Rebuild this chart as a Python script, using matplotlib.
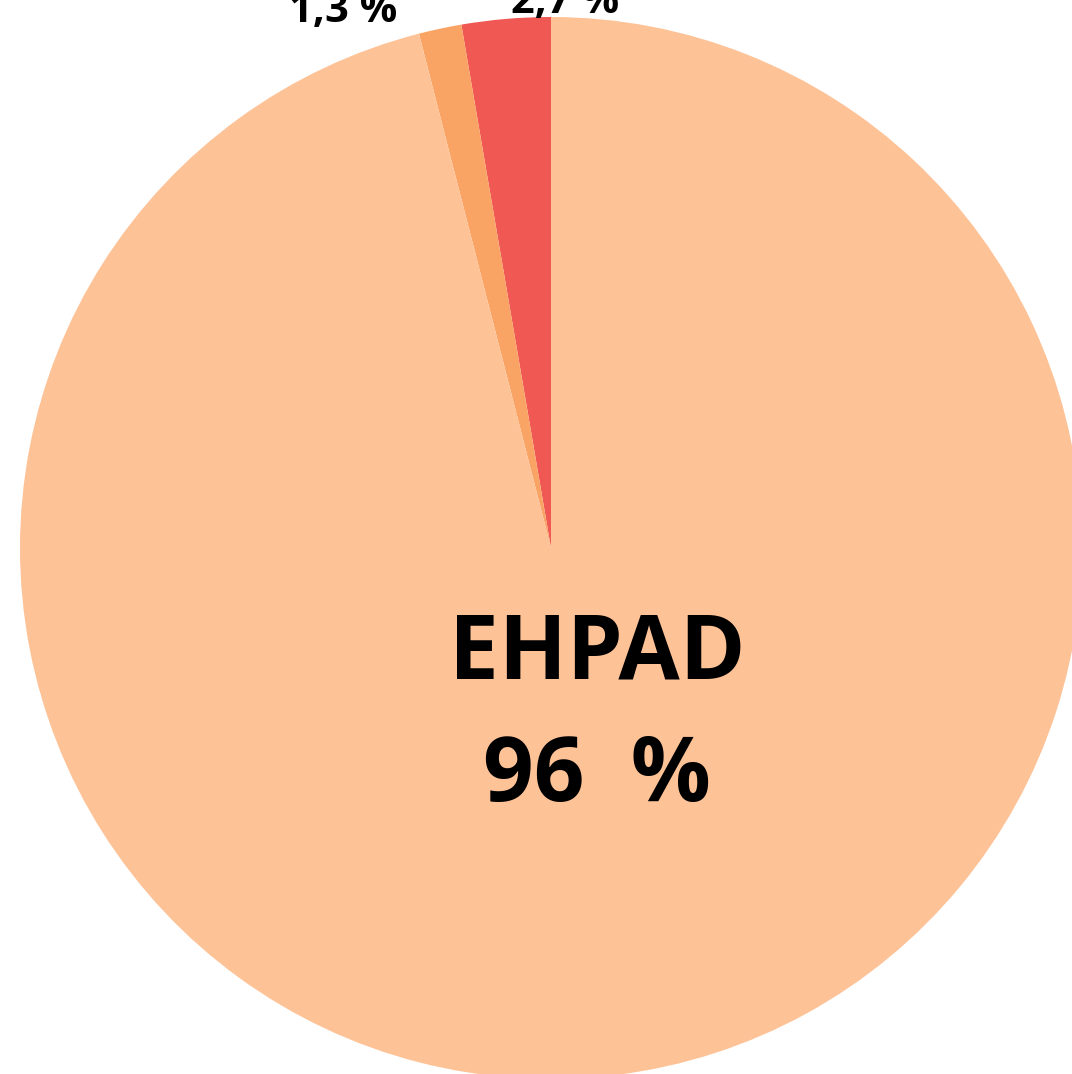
import matplotlib
matplotlib.use("Agg")
import matplotlib.pyplot as plt

categories = ["Autre", "USLD", "EHPAD"]
shares = [2.7, 1.3, 96.0]
labels = ["2,7 %", "1,3 %", "EHPAD\n96  %"]
colors = ["#EF5853", "#F9A464", "#FEC297"]

plt.rcParams['font.family'] = ['Open Sans', 'DejaVu Sans']

fig = plt.figure(figsize=(10.72, 10.74), dpi=100)
ax = fig.add_axes([0, 0, 1, 1])
ax.pie(shares, colors=colors, startangle=90, counterclock=True, radius=1.0,
       wedgeprops=dict(linewidth=0))

# pie centre sits at pixel (551, 548), radius 531 px
ax.set_xlim(-551 / 531, (1072 - 551) / 531)
ax.set_ylim(-(1074 - 548) / 531, 548 / 531)
ax.set_aspect("auto")
ax.axis("off")

ax.text(0.026, 1.028, labels[0], ha="center", va="center", fontsize=30, fontweight="bold")
ax.text(-0.392, 1.011, labels[1], ha="center", va="center", fontsize=30, fontweight="bold")
name, pct = labels[2].split("\n")
ax.text(0.087, -0.203, name, ha="center", va="center", fontsize=64, fontweight="bold")
ax.text(0.087, -0.433, pct, ha="center", va="center", fontsize=64, fontweight="bold")

fig.savefig("out.png", dpi=100)
